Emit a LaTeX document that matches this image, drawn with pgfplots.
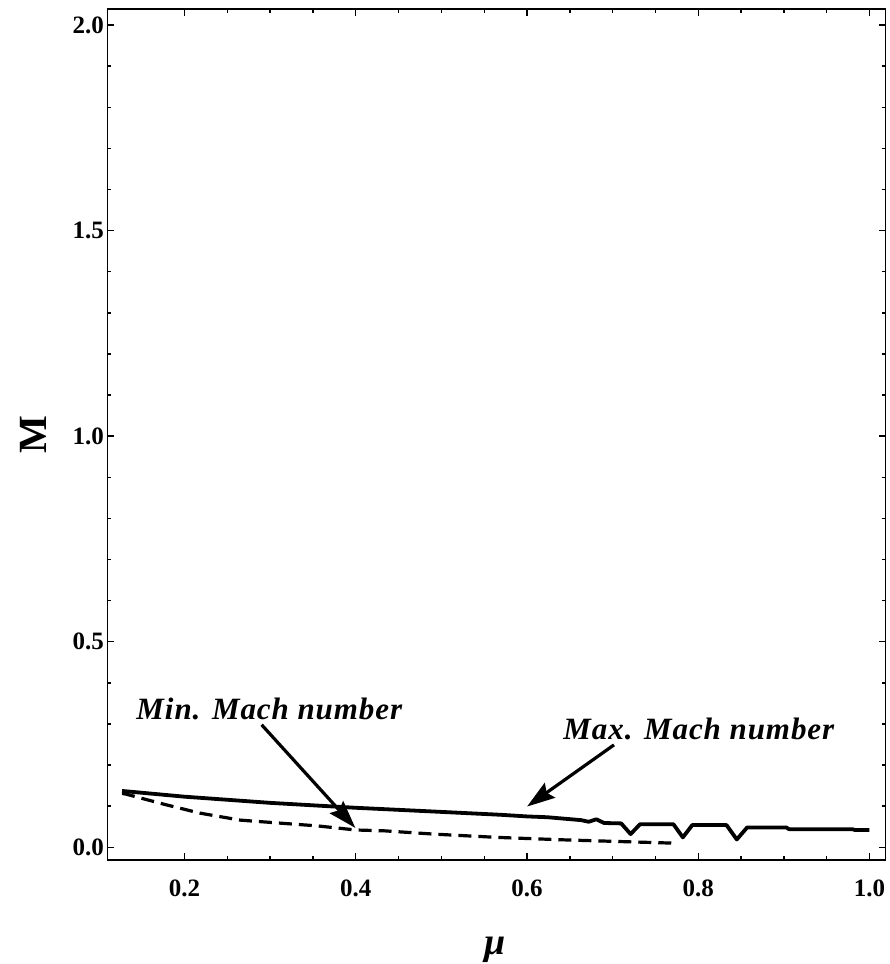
\documentclass[border=0pt]{standalone}
\usepackage{pgfplots}
\pgfplotsset{compat=1.18}
\usepackage{fontspec}
\setmainfont{Liberation Serif}
\newfontfamily\annfont[LetterSpace=3.0]{Liberation Serif}
\usetikzlibrary{arrows.meta}

\begin{document}
\begin{tikzpicture}
    \begin{axis}[
        scale only axis,
        width=778pt, height=851pt,
        xmin=0.110, xmax=1.0187,
        ymin=-0.031, ymax=2.039,
        xtick={0.2,0.4,0.6,0.8,1.0},
        ytick={0,0.5,1.0,1.5,2.0},
        minor x tick num=3,
        minor y tick num=4,
        major tick length=7pt,
        minor tick length=4pt,
        every tick/.style={black, line width=1.4pt},
        axis line style={line width=1.6pt},
        /pgf/number format/assume math mode=true,
        /pgf/number format/.cd, fixed, fixed zerofill, precision=1,
        /pgfplots/.cd,
        ticklabel style={font=\fontsize{25}{30}\selectfont\bfseries},
        xticklabel style={yshift=-16pt},
        xlabel={\textbf{\textit{μ}}},
        ylabel={\textbf{M}},
        xlabel style={at={(axis description cs:0.498,-0.106)}, anchor=center,
            font=\fontsize{38}{44}\selectfont},
        ylabel style={at={(axis description cs:-0.0958,0.5)}, anchor=center,
            font=\fontsize{40}{46}\selectfont},
        clip=false
    ]

    % maximum Mach number (solid)
    \addplot[black, line width=3.8pt, line join=round] coordinates {
        (0.127,0.137) (0.2,0.123) (0.3,0.108) (0.4,0.096) (0.5,0.086)
        (0.569,0.079) (0.6,0.075) (0.624,0.073) (0.663,0.066) (0.672,0.062)
        (0.681,0.068) (0.69,0.059) (0.71,0.058) (0.721,0.032) (0.732,0.056)
        (0.771,0.056) (0.782,0.024) (0.793,0.054) (0.833,0.054) (0.845,0.019)
        (0.857,0.048) (0.903,0.048) (0.906,0.044) (0.98,0.044) (0.983,0.042)
        (1.0,0.042)
    };

    % minimum Mach number (dashed)
    \addplot[black, line width=3.2pt, dash pattern=on 13pt off 7pt] coordinates {
        (0.127,0.131) (0.132,0.129) (0.179,0.103) (0.218,0.083) (0.265,0.066)
        (0.316,0.058) (0.355,0.052) (0.4,0.042) (0.433,0.040) (0.491,0.032)
        (0.565,0.024) (0.643,0.018) (0.771,0.010)
    };

    \node[anchor=base, font=\fontsize{31}{36}\selectfont\annfont\bfseries\itshape]
        at (axis cs:0.299,0.310) {Min. Mach number};
    \node[anchor=base, font=\fontsize{31}{36}\selectfont\annfont\bfseries\itshape]
        at (axis cs:0.8007,0.261) {Max. Mach number};

    \draw[line width=3.2pt, -{Stealth[length=28pt, width=18pt, inset=4pt]}]
        (axis cs:0.290,0.298) -- (axis cs:0.3995,0.047);
    \draw[line width=3.2pt, -{Stealth[length=28pt, width=18pt, inset=4pt]}]
        (axis cs:0.7016,0.249) -- (axis cs:0.600,0.099);
    \end{axis}
    \pgfresetboundingbox
    \path[use as bounding box] ([shift={(-107.5pt,-104pt)}]current axis.south west)
        rectangle ([shift={(4pt,9pt)}]current axis.north east);
\end{tikzpicture}
\end{document}
